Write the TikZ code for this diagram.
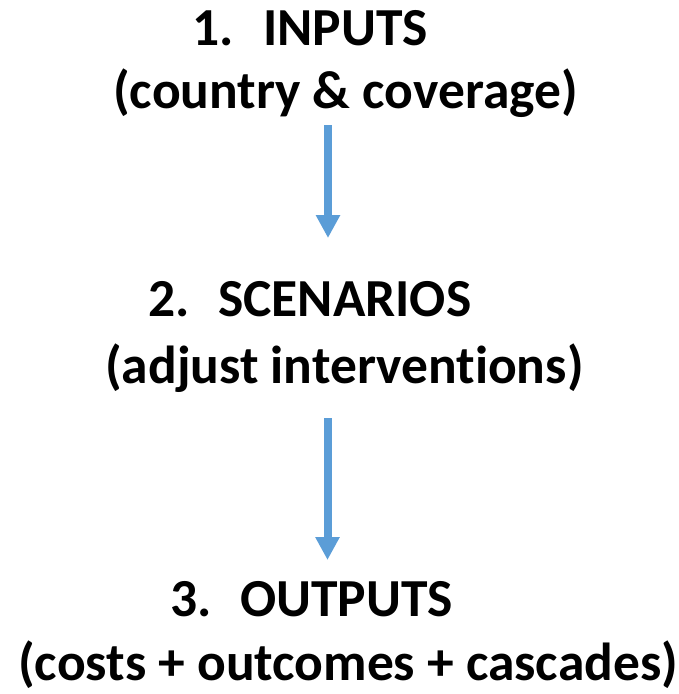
\documentclass[tikz,border=0pt]{standalone}
\usepackage{fontspec}
\setmainfont[Ligatures={NoCommon}]{Carlito}
\usetikzlibrary{arrows.meta}
\definecolor{flowblue}{RGB}{91,157,215}
\begin{document}
\begin{tikzpicture}[x=1pt,y=-1pt,
  label/.style={anchor=base west,inner sep=0pt,font=\fontsize{53.5}{58}\selectfont\bfseries},
  flow/.style={draw=flowblue,line width=8pt,-{Triangle[width=23pt,length=23pt]}}]
  \useasboundingbox (0,0) rectangle (679,694);
  % step 1
  \node[label] (n1) at (192,45) {1.};
  \node[label] (t1) at (263,45) {INPUTS};
  \node[label] (d1) at (113,108) {(country \& coverage)};
  % step 2
  \node[label] (n2) at (148,316) {2.};
  \node[label] (t2) at (218,316) {SCENARIOS};
  \node[label] (d2) at (105,383) {(adjust interventions)};
  % step 3
  \node[label] (n3) at (170,616) {3.};
  \node[label] (t3) at (240,616) {OUTPUTS};
  \node[label] (d3) at (18,680) {(costs + outcomes + cascades)};
  % connectors
  \coordinate (a1s) at (328,125);
  \coordinate (a1e) at (328,238);
  \coordinate (a2s) at (327.5,418);
  \coordinate (a2e) at (327.5,560);
  \draw[flow] (a1s) -- (a1e);
  \draw[flow] (a2s) -- (a2e);
\end{tikzpicture}
\end{document}
